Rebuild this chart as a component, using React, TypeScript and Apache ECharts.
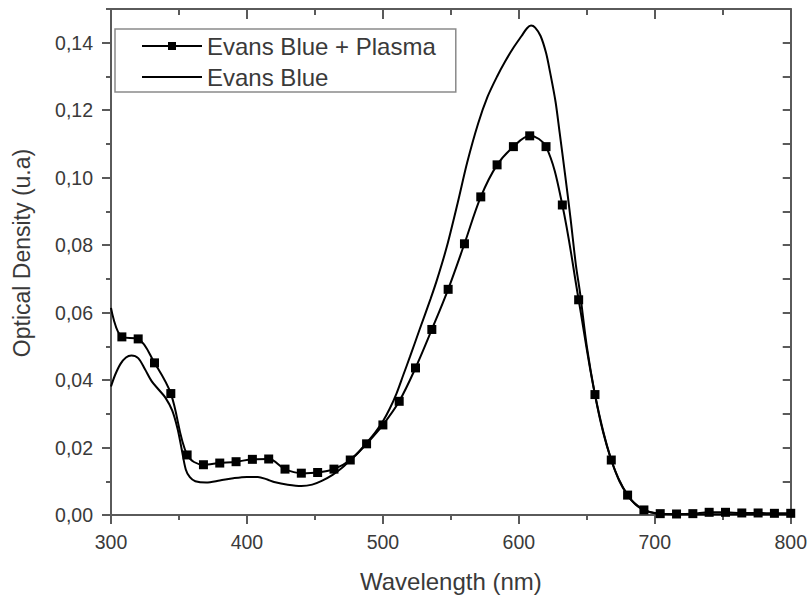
import React, { useEffect, useRef } from "react";
import * as echarts from "echarts";

const plasmaWavelengths = [300, 308, 320, 332, 344, 356, 368, 380, 392, 404, 416, 428, 440, 452, 464, 476, 488, 500, 512, 524, 536, 548, 560, 572, 584, 596, 608, 620, 632, 644, 656, 668, 680, 692, 704, 716, 728, 740, 752, 764, 776, 788, 800];
const plasmaValues = [0.0614, 0.0528, 0.0522, 0.0451, 0.036, 0.0178, 0.0149, 0.0154, 0.0158, 0.0165, 0.0166, 0.0136, 0.0124, 0.0126, 0.0136, 0.0163, 0.0211, 0.0267, 0.0337, 0.0436, 0.055, 0.0669, 0.0804, 0.0943, 0.1038, 0.1092, 0.1124, 0.1092, 0.0919, 0.0638, 0.0357, 0.0163, 0.0059, 0.0015, 0.0004, 0.0003, 0.0004, 0.0008, 0.0008, 0.0006, 0.0006, 0.0005, 0.0005];

const blueWavelengths = [300, 303, 307, 311, 315, 320, 325, 330, 335, 340, 345, 349, 352, 355, 358, 362, 370, 380, 390, 400, 408, 415, 420, 430, 440, 448, 455, 463, 470, 476, 482, 488, 494, 500, 505, 510, 515, 520, 527, 535, 540, 547, 555, 562, 570, 577, 584, 590, 596, 602, 606, 609, 612, 616, 620, 623, 627, 630, 634, 638, 642, 645, 650, 656, 662, 668, 674, 680, 686, 692, 700, 720, 760, 800];
const blueValues = [0.0381, 0.0415, 0.0448, 0.0467, 0.0473, 0.0465, 0.0432, 0.0396, 0.0372, 0.0348, 0.031, 0.0255, 0.0195, 0.0135, 0.0112, 0.01, 0.0096, 0.0102, 0.0109, 0.0113, 0.0113, 0.0105, 0.0098, 0.009, 0.0086, 0.009, 0.0101, 0.0119, 0.014, 0.0163, 0.0186, 0.0214, 0.0243, 0.0278, 0.0315, 0.036, 0.0415, 0.047, 0.055, 0.064, 0.07, 0.0795, 0.0925, 0.1045, 0.116, 0.124, 0.13, 0.1345, 0.1385, 0.142, 0.1443, 0.1451, 0.1445, 0.142, 0.137, 0.1312, 0.1225, 0.1134, 0.101, 0.088, 0.074, 0.0659, 0.05, 0.0357, 0.0245, 0.0163, 0.01, 0.0059, 0.003, 0.0015, 0.0005, 0.0002, 0.0002, 0.0002];

const seriesNames = ["Evans Blue + Plasma", "Evans Blue"];
const xTitle = "Wavelength (nm)";
const yTitle = "Optical Density (u.a)";

const AXIS = "#5a5a5a";
const TEXT = "#3a3a3a";
const FONT = "Liberation Sans, Arial, sans-serif";

export default function App() {
  const ref = useRef<HTMLDivElement>(null);
  useEffect(() => {
    document.body.style.margin = "0";
    const chart = echarts.init(ref.current!, undefined, { renderer: "svg" });
    const plasmaData = plasmaWavelengths.map((w, i) =>
      i === 0 ? { value: [w, plasmaValues[i]], symbol: "none" } : { value: [w, plasmaValues[i]] }
    );
    const blueData = blueWavelengths.map((w, i) => [w, blueValues[i]]);
    const baseX = { type: "value", min: 300, max: 800, gridIndex: 0 };
    const baseY = { type: "value", min: 0, max: 0.15, gridIndex: 0 };
    const line = { show: true, lineStyle: { color: AXIS, width: 2 } };
    chart.setOption({
      animation: false,
      backgroundColor: "#ffffff",
      textStyle: { fontFamily: FONT },
      grid: { left: 111, right: 19, top: 9, bottom: 84, containLabel: false },
      legend: {
        orient: "vertical",
        left: 115,
        top: 29,
        data: [
          { name: seriesNames[0] },
          { name: seriesNames[1], itemStyle: { opacity: 0 } },
        ],
        itemWidth: 60,
        itemHeight: 10,
        itemGap: 7,
        padding: [5, 20, 3, 26],
        borderColor: "#8a8a8a",
        borderWidth: 1.5,
        textStyle: { fontSize: 24, color: TEXT, fontFamily: FONT },
      },
      xAxis: [
        {
          ...baseX,
          position: "bottom",
          interval: 100,
          axisLine: { ...line, onZero: false },
          axisTick: { show: true, length: 9, lineStyle: { color: AXIS, width: 2 } },
          axisLabel: { fontSize: 19.5, color: TEXT, margin: 17, fontFamily: FONT },
          splitLine: { show: false },
          name: xTitle,
          nameLocation: "middle",
          nameGap: 54,
          nameTextStyle: { fontSize: 24, color: TEXT, fontFamily: FONT },
        },
        {
          ...baseX,
          position: "bottom",
          interval: 50,
          axisLine: { show: false, onZero: false },
          axisTick: { show: true, length: 5, lineStyle: { color: AXIS, width: 2 } },
          axisLabel: { show: false },
          splitLine: { show: false },
        },
        {
          ...baseX,
          position: "top",
          interval: 100,
          axisLine: { ...line, onZero: false },
          axisTick: { show: true, inside: true, length: 10, lineStyle: { color: AXIS, width: 2 } },
          axisLabel: { show: false },
          splitLine: { show: false },
        },
        {
          ...baseX,
          position: "top",
          interval: 50,
          axisLine: { show: false, onZero: false },
          axisTick: { show: true, inside: true, length: 6, lineStyle: { color: AXIS, width: 2 } },
          axisLabel: { show: false },
          splitLine: { show: false },
        },
      ],
      yAxis: [
        {
          ...baseY,
          position: "left",
          interval: 0.02,
          axisLine: { ...line, onZero: false },
          axisTick: { show: true, length: 9, lineStyle: { color: AXIS, width: 2 } },
          axisLabel: {
            fontSize: 19.5,
            color: TEXT,
            margin: 18,
            fontFamily: FONT,
            showMaxLabel: false,
            formatter: (v: number) => (v > 0.145 ? "" : v.toFixed(2).replace(".", ",")),
          },
          splitLine: { show: false },
          name: yTitle,
          nameLocation: "middle",
          nameGap: 78,
          nameTextStyle: { fontSize: 23, color: TEXT, fontFamily: FONT, padding: [0, 0, 0, 18] },
        },
        {
          ...baseY,
          position: "left",
          interval: 0.01,
          axisLine: { show: false, onZero: false },
          axisTick: { show: true, length: 5, lineStyle: { color: AXIS, width: 2 } },
          axisLabel: { show: false },
          splitLine: { show: false },
        },
        {
          ...baseY,
          position: "right",
          interval: 0.01,
          axisLine: { ...line, onZero: false },
          axisTick: { show: true, inside: true, length: 8, lineStyle: { color: AXIS, width: 2 } },
          axisLabel: { show: false },
          splitLine: { show: false },
        },
      ],
      series: [
        {
          name: seriesNames[0],
          type: "line",
          xAxisIndex: 0,
          yAxisIndex: 0,
          data: plasmaData,
          smooth: 0.35,
          symbol: "rect",
          symbolSize: 9,
          showAllSymbol: true,
          lineStyle: { color: "#000", width: 2 },
          itemStyle: { color: "#000" },
          z: 3,
        },
        {
          name: seriesNames[1],
          type: "line",
          xAxisIndex: 0,
          yAxisIndex: 0,
          data: blueData,
          smooth: 0.3,
          symbol: "none",
          lineStyle: { color: "#000", width: 2 },
          itemStyle: { color: "#000" },
          z: 2,
        },
      ],
    });
    return () => chart.dispose();
  }, []);
  return <div ref={ref} style={{ width: 810, height: 599 }} />;
}
